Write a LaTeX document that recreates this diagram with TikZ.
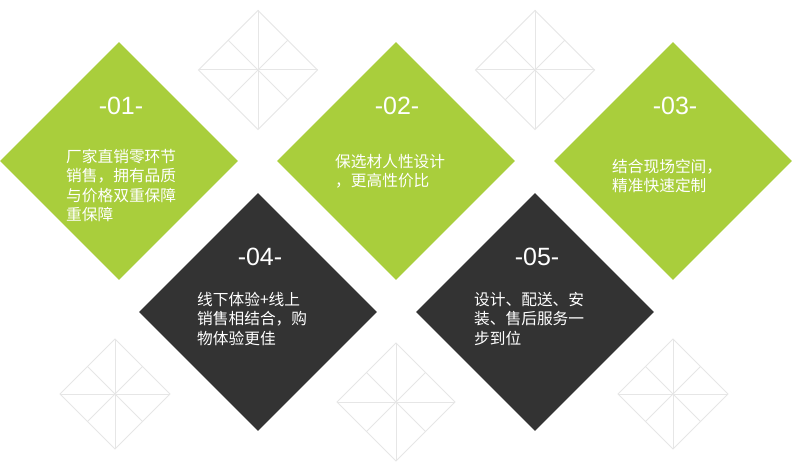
\documentclass[tikz,border=0pt]{standalone}
\usepackage{fontspec}
\setmainfont{Liberation Sans}
\newfontfamily\cjk{Noto Sans CJK SC}
\usetikzlibrary{shapes.geometric}
\definecolor{leaf}{HTML}{A9CE3C}
\definecolor{coal}{HTML}{333333}
\definecolor{faint}{HTML}{E6E6E6}
\tikzset{
  bigdia/.style={diamond, aspect=1, minimum width=238pt, minimum height=238pt, inner sep=0pt, draw=none},
  greendia/.style={bigdia, fill=leaf},
  darkdia/.style={bigdia, fill=coal},
  numtxt/.style={text=white, font=\fontsize{25}{30}\selectfont, inner sep=0pt},
  bodytxt/.style={text=white, font=\cjk\fontsize{15.7}{19.3}\selectfont, align=left, anchor=north west, inner sep=0pt},
  ghost/.style={draw=faint, line width=1pt}
}
\newcommand{\ghostdia}[3]{% x, y, half
  \draw[ghost] (#1-#3,#2) -- (#1,#2-#3) -- (#1+#3,#2) -- (#1,#2+#3) -- cycle;
  \draw[ghost] (#1-#3,#2) -- (#1+#3,#2);
  \draw[ghost] (#1,#2-#3) -- (#1,#2+#3);
  \draw[ghost] (#1-#3/2,#2-#3/2) -- (#1+#3/2,#2+#3/2);
  \draw[ghost] (#1+#3/2,#2-#3/2) -- (#1-#3/2,#2+#3/2);
}
\begin{document}
\begin{tikzpicture}[x=1pt,y=-1pt]
\useasboundingbox (0,0) rectangle (800,462);
\fill[white] (0,0) rectangle (800,462);
% background outline diamonds
\ghostdia{258}{70}{59.5}
\ghostdia{535}{70}{59.5}
\ghostdia{115}{394}{55}
\ghostdia{396}{402}{59}
\ghostdia{673}{394}{55}
% main diamonds
\node[greendia] (d1) at (119,161) {};
\node[greendia] (d2) at (396,161) {};
\node[greendia] (d3) at (673,161) {};
\node[darkdia] (d4) at (258,312) {};
\node[darkdia] (d5) at (535,312) {};
% numbers
\node[numtxt] (n1) at (121,106) {-01-};
\node[numtxt] (n2) at (397,106) {-02-};
\node[numtxt] (n3) at (675,106) {-03-};
\node[numtxt] (n4) at (260,257) {-04-};
\node[numtxt] (n5) at (537,257) {-05-};
% body text
\node[bodytxt] (t1) at (66,149) {厂家直销零环节\\销售，拥有品质\\与价格双重保障\\重保障};
\node[bodytxt] (t2) at (335,154) {保选材人性设计\\，更高性价比};
\node[bodytxt] (t3) at (612,159) {结合现场空间，\\精准快速定制};
\node[bodytxt] (t4) at (197,292) {线下体验+线上\\销售相结合，购\\物体验更佳};
\node[bodytxt] (t5) at (474,292) {设计、配送、安\\装、售后服务一\\步到位};
\end{tikzpicture}
\end{document}
